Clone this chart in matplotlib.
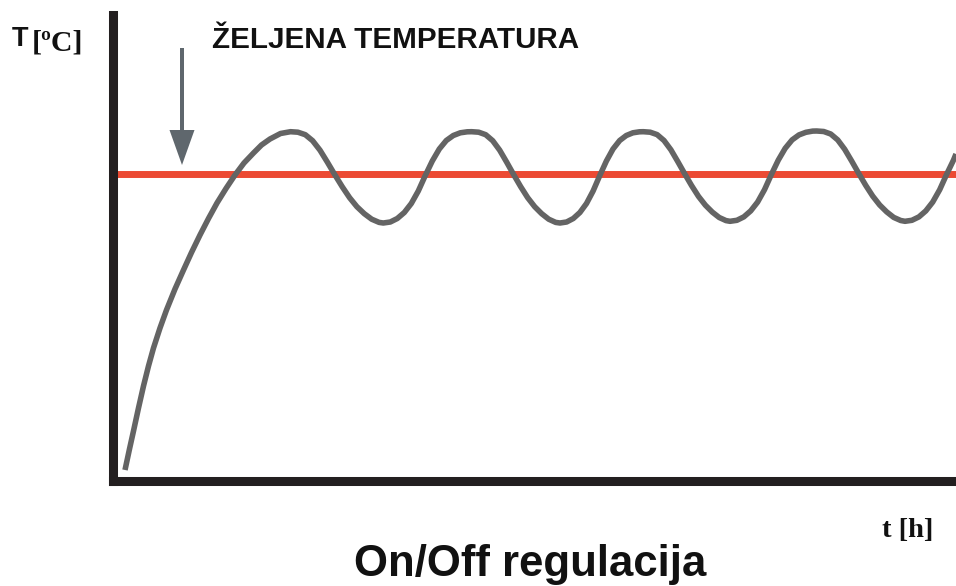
import matplotlib
matplotlib.use("Agg")
import matplotlib.pyplot as plt

# time (arbitrary units along the t axis) and temperature readings of the curve
time_t = [1.25, 1.7, 2.1, 2.6, 3.1, 3.6, 4.1, 4.75, 5.4, 6.25, 7.1, 7.9, 8.75,
          9.6, 10.45, 11.35, 12.25, 13.15, 14.1, 14.9, 15.75, 16.8, 17.8,
          18.54, 19.28, 20.01, 20.75, 21.49, 22.23, 22.97, 23.71, 24.44, 25.18,
          25.92, 26.66, 27.08,
          27.78, 28.48, 29.18, 29.88, 30.58, 31.28, 31.98, 32.68, 33.38, 34.08,
          34.78, 35.48, 35.92,
          36.62, 37.32, 38.02, 38.72, 39.42, 40.12, 40.82, 41.52, 42.22, 42.92,
          43.62, 44.32, 44.75,
          45.41, 46.08, 46.74, 47.40, 48.06, 48.73, 49.39, 50.05, 50.72, 51.38,
          52.04, 52.70, 53.08,
          53.77, 54.46, 55.15, 55.84, 56.53, 57.22, 57.91, 58.60, 59.29, 59.98,
          60.67, 61.35, 61.75,
          62.44, 63.13, 63.82, 64.51, 65.20, 65.89, 66.58, 67.27, 67.96, 68.65,
          69.34, 70.02, 70.42,
          71.12, 71.82, 72.52, 73.22, 73.92, 74.62, 75.32, 76.02, 76.72, 77.42,
          78.12, 78.82, 79.25,
          79.94, 80.64, 81.33, 82.02, 82.72, 83.41, 84.10, 84.35]
temp_T = [1.1, 3.2, 5.0, 7.3, 9.5, 11.5, 13.3, 15.3, 17.1, 19.2, 21.1, 22.85, 24.6,
          26.25, 27.8, 29.25, 30.6, 31.8, 32.8, 33.6, 34.2, 34.75, 34.93,
          34.88, 34.63, 34.03, 33.08, 31.88, 30.63, 29.43, 28.33, 27.43, 26.73,
          26.18, 25.86, 25.8,
          25.9, 26.25, 26.85, 27.75, 29.0, 30.55, 32.0, 33.2, 34.05, 34.55,
          34.82, 34.92, 34.93,
          34.88, 34.63, 34.03, 33.08, 31.88, 30.63, 29.43, 28.33, 27.43, 26.73,
          26.18, 25.86, 25.8,
          25.9, 26.25, 26.85, 27.75, 29.0, 30.55, 32.0, 33.2, 34.05, 34.55,
          34.82, 34.92, 34.93,
          34.88, 34.64, 34.05, 33.12, 31.94, 30.72, 29.54, 28.46, 27.58, 26.89,
          26.35, 26.04, 25.97,
          26.07, 26.41, 27.01, 27.89, 29.13, 30.66, 32.09, 33.27, 34.11, 34.61,
          34.87, 34.99, 35.0,
          34.95, 34.70, 34.11, 33.17, 31.99, 30.76, 29.57, 28.49, 27.60, 26.91,
          26.36, 26.05, 25.97,
          26.07, 26.41, 27.01, 27.89, 29.13, 30.66, 32.09, 32.7]
setpoint = 30.75

W, H = 956, 586
fig = plt.figure(figsize=(W / 100, H / 100), dpi=100)
fig.patch.set_facecolor("white")
ax = fig.add_axes([112.5 / W, (H - 481) / H, 843.5 / W, 466.5 / H])
ax.set_xlim(0, 84.35)
ax.set_ylim(0, 46.65)
ax.set_xticks([])
ax.set_yticks([])
for s in ("top", "right"):
    ax.spines[s].set_visible(False)
for s in ("left", "bottom"):
    ax.spines[s].set_linewidth(6.5)
    ax.spines[s].set_color("#231f20")
    ax.spines[s].set_capstyle("projecting")
    ax.spines[s].set_zorder(5)

ax.axhline(setpoint, color="#ec4a33", lw=5.0, zorder=2)
ax.plot(time_t, temp_T, color="#646464", lw=4.0, zorder=3,
        solid_capstyle="butt", solid_joinstyle="round")

ax.arrow(6.95, 43.3, 0, -11.7, width=0.4, head_width=2.5, head_length=3.5,
         length_includes_head=True, color="#5f676d", lw=0, zorder=4, clip_on=False)

def fx(px):
    return px / W

def fy(py):
    return (H - py) / H

fig.text(fx(212), fy(48.5), "ŽELJENA TEMPERATURA", fontsize=21.3, fontweight="bold",
         family="Liberation Sans", ha="left", va="baseline", color="#111111")
fig.text(fx(12), fy(46), "T", fontsize=19.5, fontweight="bold",
         family="Liberation Sans", ha="left", va="baseline", color="#111111")
fig.text(fx(32), fy(50), "[ºC]", fontsize=21.5, fontweight="bold",
         family="Liberation Serif", ha="left", va="baseline", color="#111111")
fig.text(fx(933), fy(537), "t [h]", fontsize=20.5, fontweight="bold",
         family="Liberation Serif", ha="right", va="baseline", color="#111111")
fig.text(fx(530), fy(576), "On/Off regulacija", fontsize=31.5, fontweight="bold",
         family="Liberation Sans", ha="center", va="baseline", color="#111111")

fig.savefig("out.png", dpi=100)
